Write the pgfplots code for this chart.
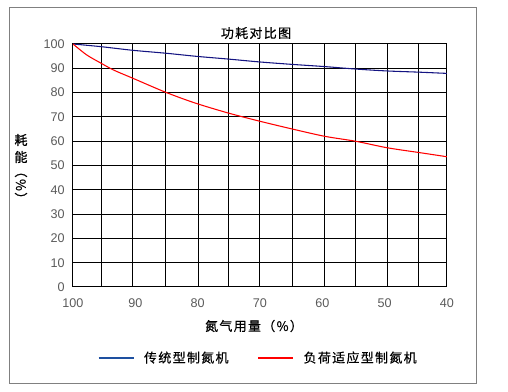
\documentclass[border=0pt]{standalone}
\usepackage{fontspec}
\setmainfont{Liberation Sans}
\newfontfamily\cjk[LetterSpace=10,FakeBold=0.4]{Noto Sans CJK SC}
\newfontfamily\cjkb[LetterSpace=10,FakeBold=1.2]{Noto Sans CJK SC}
\usepackage{pgfplots}
\pgfplotsset{compat=1.18}
\definecolor{navyline}{RGB}{20,20,130}
\definecolor{legblue}{RGB}{30,80,160}
\definecolor{redline}{RGB}{255,0,0}
\definecolor{ticktext}{RGB}{90,90,90}
\definecolor{framegray}{RGB}{128,128,128}
\newcommand{\cjkfont}{\cjk\fontsize{9.75}{11}\selectfont}
\newcommand{\cjkbfont}{\cjkb\fontsize{9.75}{11}\selectfont}
\begin{document}
\begin{tikzpicture}
\useasboundingbox (0,0) rectangle (381pt,294pt);
\draw[framegray, line width=0.75pt] (6.75pt,6pt) rectangle (357pt,288pt);
\begin{axis}[
  at={(54.75pt,78.75pt)}, anchor=south west,
  scale only axis, width=280.5pt, height=182.25pt,
  x dir=reverse,
  xmin=40, xmax=100, ymin=0, ymax=100,
  xtick={40,50,...,100}, ytick={0,10,...,100},
  minor xtick={44.5,49.6,54.7,59.7,64.8,70,75.1,79.9,85.2,90.4,95.5},
  xminorgrids=true, ymajorgrids=true, xmajorgrids=false,
  major tick length=0pt, minor tick length=0pt,
  grid style={black, line width=0.75pt},
  minor grid style={black, line width=0.75pt},
  axis line style={black, line width=0.75pt},
  tick label style={font=\fontsize{9.45}{11}\selectfont, text=ticktext},
  /pgf/number format/assume math mode=true,
  xticklabel style={anchor=center, yshift=-12pt},
  yticklabel style={anchor=east, inner sep=0pt, xshift=-6pt},
  legend style={at={(0.0668,-0.2922)}, anchor=west, draw=none, fill=none,
    legend columns=2, inner sep=0pt, outer sep=0pt,
    nodes={inner sep=0pt, font=\cjkfont},
    /tikz/every odd column/.append style={column sep=7.5pt},
    /tikz/every even column/.append style={column sep=21.75pt}},
  legend image code/.code={\draw (0pt,0pt) -- (26.25pt,0pt);},
]
\addplot[navyline, line width=0.8pt, smooth, legend image post style={legblue}] coordinates {
(100,100) (95.5,98.9) (90.4,97.4) (85.1,96.2) (80.1,94.9) (75.1,93.8) (70,92.6)
(64.8,91.6) (59.6,90.7) (54.7,89.7) (49.6,88.9) (44.4,88.4) (40,87.9)};
\addlegendentry{传统型制氮机}
\addplot[redline, line width=0.8pt, smooth] coordinates {
(100,100) (97.8,95.5) (95.5,92.1) (93.5,89.3) (90.4,85.9) (85.1,80.1) (80.4,75.7) (75.1,71.6) (70,68.2)
(64.8,65.0) (59.6,62.0) (54.7,60.0) (49.6,57.3) (44.4,55.3) (40,53.6)};
\addlegendentry{负荷适应型制氮机}
\end{axis}
\node[font=\cjkfont] at (192pt,269.25pt) {功耗对比图};
\node[font=\cjkfont] at (190.5pt,49.5pt) {氮气用量（\%）};
\node[font=\cjkbfont] at (15.75pt,189pt) {耗};
\node[font=\cjkbfont] at (15.75pt,176.25pt) {能};
\node[font=\cjkfont, rotate=-90] at (15.75pt,155.25pt) {（\%）};
\end{tikzpicture}
\end{document}
